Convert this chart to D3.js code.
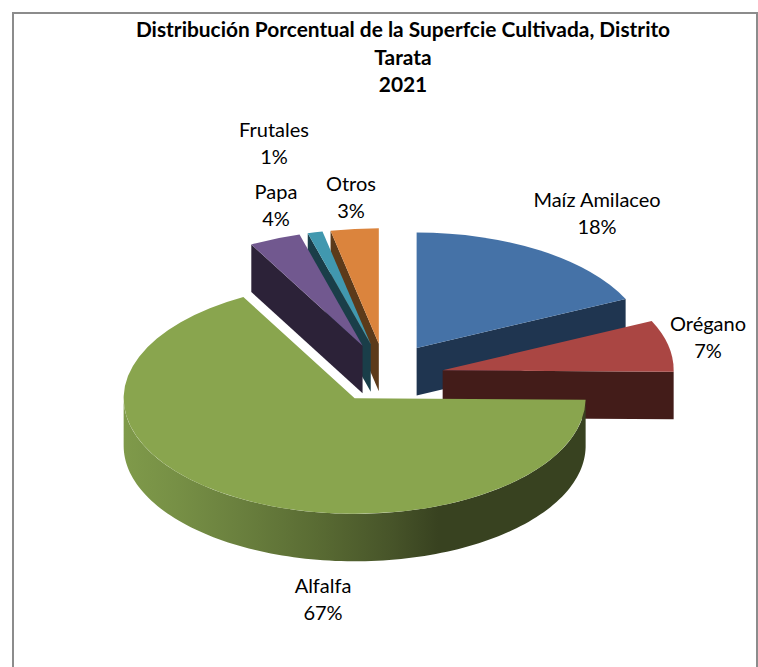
<!DOCTYPE html>
<html lang="es">
<head>
<meta charset="utf-8">
<title>Distribución Porcentual de la Superficie Cultivada</title>
<script src="https://cdnjs.cloudflare.com/ajax/libs/d3/7.9.0/d3.min.js"></script>
<style>
  html, body { margin: 0; padding: 0; background: #fff; }
  svg { display: block; }
  text { font-family: Lato, "Open Sans", sans-serif; fill: #000; }
</style>
</head>
<body>
<svg id="chart" width="758" height="667"></svg>
<script>
// ---- data ----
const titleLines = ["Distribución Porcentual de la Superfcie Cultivada, Distrito", "Tarata", "2021"];
const categories = ["Maíz Amilaceo", "Orégano", "Alfalfa", "Papa", "Frutales", "Otros"];
const shares = [18, 7.2, 66.8, 3.6, 1.05, 3.35];

// ---- styling and layout ----
const topColors  = ["#4572a7", "#aa4643", "#89a54e", "#71588f", "#4198af", "#db843d"];
const wallColors = ["#1f3550", "#431c19", "#384220", "#2c2238", "#1a3e49", "#5c3a1a"];
const labelPos = [[597, 201], [708, 325], [323, 587], [276, 193], [274, 131], [351, 185]];
const W = 758, H = 667;
const cx = 385, cy = 373;      // pie centre before explosion
const rx = 231, tilt = 0.5;    // ellipse radius and squash
const depth = 47.5;
const explode = 59;
const yNudge = [0, 3.5, 0, 0, 0, 0];
const drawOrder = [5, 4, 3, 0, 1, 2];
const TAU = 2 * Math.PI;

const svg = d3.select("#chart");

// frame: open at the bottom
svg.append("path")
  .attr("d", d3.line()([[13, H], [13, 13], [757, 13], [757, H]]))
  .attr("fill", "none").attr("stroke", "#8c8c8c").attr("stroke-width", 2);

// title
svg.append("g").selectAll("text").data(titleLines).join("text")
  .attr("x", 403).attr("y", (d, i) => 37 + i * 27.5)
  .attr("text-anchor", "middle")
  .attr("font-size", 20.9).attr("font-weight", 700)
  .text(d => d);

// pie layout in source order, clockwise from 12 o'clock
const pie = d3.pie().value(d => d).sort(null);
const slices = pie(shares);
const arc = d3.arc().innerRadius(0).outerRadius(rx);

const apex = (d, i) => {
  const mid = (d.startAngle + d.endAngle) / 2;
  return [cx + explode * Math.sin(mid), cy - explode * Math.cos(mid) * tilt + yNudge[i]];
};
const rim = (c, a) => [c[0] + rx * Math.sin(a), c[1] - rx * Math.cos(a) * tilt];
const down = p => [p[0], p[1] + depth];
const closed = d3.line().curve(d3.curveLinearClosed);

// gradient on the curved wall of the large slice, lit from the left
const defs = svg.append("defs");
const grad = defs.append("linearGradient").attr("id", "wallGrad")
  .attr("gradientUnits", "userSpaceOnUse")
  .attr("x1", 124).attr("x2", 586).attr("y1", 0).attr("y2", 0);
[[0, "#7f9a4a"], [0.12, "#768f45"], [0.25, "#6a803e"], [0.42, "#596b33"], [0.58, "#475429"], [0.68, "#384220"], [1, "#384220"]]
  .forEach(s => grad.append("stop").attr("offset", s[0]).attr("stop-color", s[1]));

const groups = svg.append("g").selectAll("g").data(drawOrder).join("g");
groups.each(function (i) {
  const d = slices[i], g = d3.select(this), c = apex(d, i);
  const a0 = d.startAngle, a1 = d.endAngle;

  // straight walls that face the viewer
  const radial = a => {
    const r = rim(c, a);
    g.append("path").attr("d", closed([c, r, down(r), down(c)]))
      .attr("fill", wallColors[i]);
  };
  if (a0 > TAU / 2 && a0 < TAU) radial(a0);
  if (a1 > 0 && a1 < TAU / 2) radial(a1);

  // curved outer wall, front half only
  const f0 = Math.max(a0, TAU / 4), f1 = Math.min(a1, 3 * TAU / 4);
  if (f1 > f0) {
    const top = d3.range(0, 121).map(k => rim(c, f0 + (f1 - f0) * k / 120));
    const isBig = d3.max(shares) === shares[i];
    g.append("path").attr("d", closed(top.concat(top.map(down).reverse())))
      .attr("fill", isBig ? "url(#wallGrad)" : wallColors[i]);
  }

  // top face
  g.append("path")
    .attr("d", arc(d))
    .attr("transform", `translate(${c[0]},${c[1]}) scale(1,${tilt})`)
    .attr("fill", topColors[i]);
});

// data labels: name over rounded percent
const pct = d3.format(".0f");
const labels = svg.append("g").selectAll("text").data(categories).join("text")
  .attr("text-anchor", "middle").attr("font-size", 20);
labels.append("tspan")
  .attr("x", (d, i) => labelPos[i][0]).attr("y", (d, i) => labelPos[i][1] + 6)
  .text(d => d);
labels.append("tspan")
  .attr("x", (d, i) => labelPos[i][0]).attr("y", (d, i) => labelPos[i][1] + 33)
  .text((d, i) => pct(shares[i]) + "%");
</script>
</body>
</html>
